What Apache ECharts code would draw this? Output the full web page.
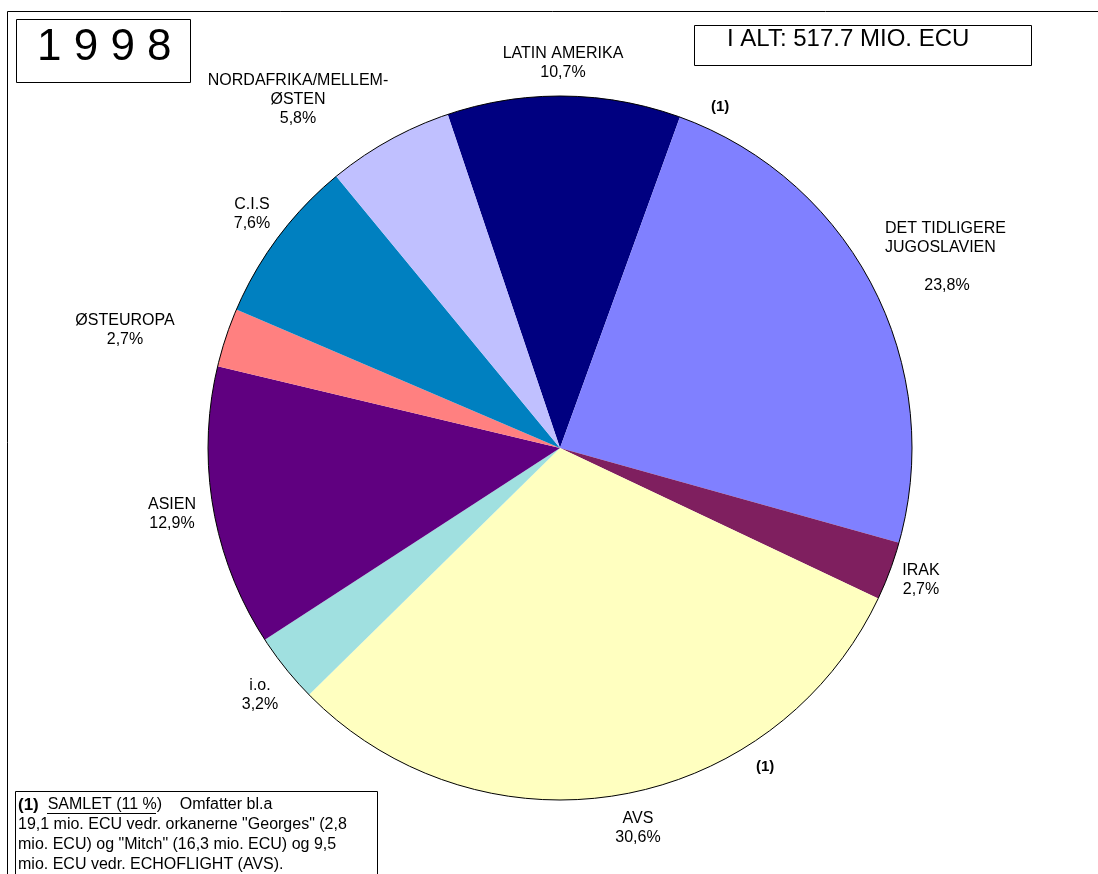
<!DOCTYPE html>
<html>
<head>
<meta charset="utf-8">
<script src="https://cdn.jsdelivr.net/npm/echarts@6/dist/echarts.min.js"></script>
<style>
  html, body { margin: 0; padding: 0; background: #fff; }
  #root { width: 1098px; height: 874px; }
</style>
</head>
<body>
<div id="root"></div>
<script>
// regions, clockwise from the top
var regions = ['LATIN AMERIKA', 'DET TIDLIGERE\nJUGOSLAVIEN\n', 'IRAK', 'AVS', 'i.o.', 'ASIEN', 'ØSTEUROPA', 'C.I.S', 'NORDAFRIKA/MELLEM-\nØSTEN'];
var shares = [10.7, 23.8, 2.7, 30.6, 3.2, 12.9, 2.7, 7.6, 5.8];
var sliceColors = ['#000080', '#8080ff', '#7f1f5f', '#ffffc0', '#a0e0e0', '#600080', '#ff8080', '#0080c0', '#c0c0ff'];
// where each label sits, and how its lines line up
var labelSpots = [[563, 63], [885, 257], [921, 580], [638, 828], [260, 695], [172, 514], [125, 330], [252, 214], [298, 100]];
var labelAligns = ['center', 'left', 'center', 'center', 'center', 'center', 'center', 'center', 'center'];

var total = '517.7';
var yearText = '1 9 9 8';
var FONT = 'Liberation Sans, Arial, sans-serif';

var myChart = echarts.init(document.getElementById('root'));

var option = {
  backgroundColor: '#fff',
  animation: false,
  textStyle: { fontFamily: FONT },
  series: [
    {
      type: 'pie',
      center: [560, 448],
      radius: 352,
      startAngle: 108.6,
      clockwise: true,
      silent: true,
      itemStyle: { borderWidth: 0 },
      label: {
        show: true,
        position: 'outside',
        color: '#000',
        fontSize: 16,
        lineHeight: 19,
        fontFamily: FONT,
        formatter: function (p) {
          var pct = p.value.toFixed(1).replace('.', ',') + '%';
          if (labelAligns[p.dataIndex] === 'left') pct = '{p|' + pct + '}';
          return p.name + '\n' + pct;
        },
        rich: {
          p: { width: 124, align: 'center', fontSize: 16, lineHeight: 19, fontFamily: FONT, color: '#000' }
        }
      },
      labelLine: { show: false },
      labelLayout: function (p) {
        var s = labelSpots[p.dataIndex];
        return { x: s[0], y: s[1], align: labelAligns[p.dataIndex], verticalAlign: 'middle' };
      },
      data: regions.map(function (r, i) {
        return { name: r, value: shares[i], itemStyle: { color: sliceColors[i] } };
      })
    },
    {
      // black rim round the whole pie
      type: 'pie',
      center: [560, 448],
      radius: 352,
      silent: true,
      label: { show: false },
      labelLine: { show: false },
      itemStyle: { color: 'none', borderColor: '#000', borderWidth: 1 },
      data: [{ value: 1 }]
    }
  ],
  graphic: {
    elements: [
      // frame lines
      { type: 'line', shape: { x1: 7.5, y1: 11.5, x2: 1098, y2: 11.5 }, style: { stroke: '#000', lineWidth: 1 } },
      { type: 'line', shape: { x1: 7.5, y1: 11.5, x2: 7.5, y2: 874 }, style: { stroke: '#000', lineWidth: 1 } },
      // year box
      { type: 'rect', shape: { x: 16.5, y: 19.5, width: 174, height: 63 }, style: { fill: '#fff', stroke: '#000', lineWidth: 1 } },
      { type: 'text', left: 37, top: 26, style: { text: yearText, fontSize: 44, fill: '#000', fontFamily: FONT } },
      // total box
      { type: 'rect', shape: { x: 694.5, y: 25.5, width: 337, height: 40 }, style: { fill: '#fff', stroke: '#000', lineWidth: 1 } },
      { type: 'text', left: 727, top: 27, style: { text: 'I ALT: ' + total + ' MIO. ECU', fontSize: 24, fill: '#000', fontFamily: FONT } },
      // footnote markers
      { type: 'text', left: 711, top: 99, style: { text: '(1)', fontSize: 15, fontWeight: 'bold', fill: '#000', fontFamily: FONT } },
      { type: 'rect', shape: { x: 410, y: 612, width: 42, height: 25 }, style: { fill: '#fff' } },
      { type: 'text', left: 420, top: 616, style: { text: '(1)', fontSize: 15, fontWeight: 'bold', fill: '#000', fontFamily: FONT } },
      { type: 'text', left: 756, top: 759, style: { text: '(1)', fontSize: 15, fontWeight: 'bold', fill: '#000', fontFamily: FONT } },
      // footnote box
      { type: 'rect', shape: { x: 15.5, y: 791.5, width: 362, height: 90 }, style: { fill: '#fff', stroke: '#000', lineWidth: 1 } },
      {
        type: 'text', left: 18, top: 795,
        style: {
          text: '{b|(1)}  SAMLET (11 %)    Omfatter bl.a\n19,1 mio. ECU vedr. orkanerne "Georges" (2,8\nmio. ECU) og "Mitch" (16,3 mio. ECU) og 9,5\nmio. ECU vedr. ECHOFLIGHT (AVS).',
          fontSize: 16, lineHeight: 20, fill: '#000', fontFamily: FONT,
          rich: { b: { fontWeight: 'bold', fontSize: 17, lineHeight: 20, fontFamily: FONT } }
        }
      },
      { type: 'line', shape: { x1: 47, y1: 813.5, x2: 156, y2: 813.5 }, style: { stroke: '#000', lineWidth: 1 } }
    ]
  }
};

myChart.setOption(option);
window.addEventListener('resize', myChart.resize);
</script>
</body>
</html>
